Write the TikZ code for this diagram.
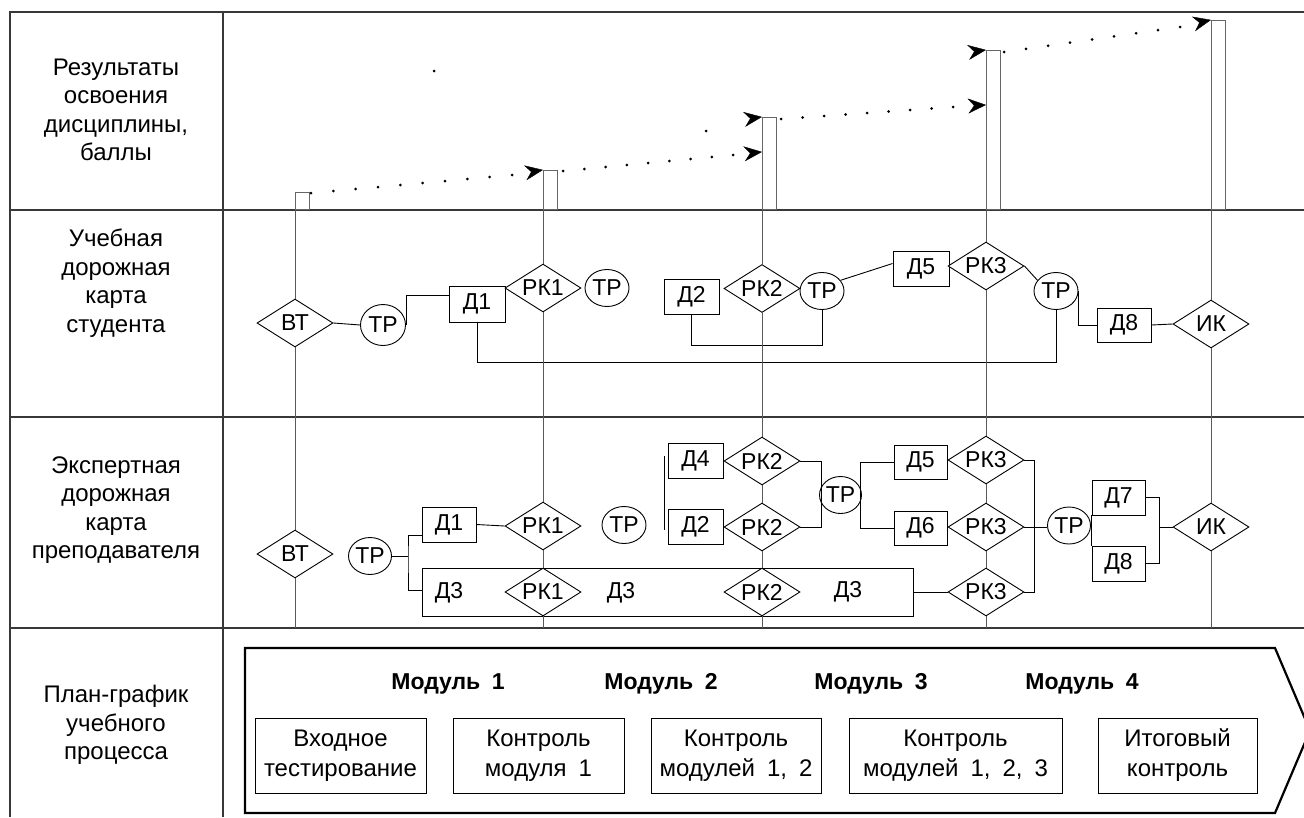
\documentclass[tikz,border=0pt]{standalone}
\usepackage{fontspec}
\setmainfont{Liberation Sans}
\usetikzlibrary{shapes.geometric,arrows.meta,calc}
\newcommand\flab{\fontsize{24pt}{28.5pt}\selectfont}
\newcommand\fnd{\fontsize{23pt}{26pt}\selectfont}
\newcommand\fbx{\fontsize{24pt}{30pt}\selectfont}
\newcommand\fmd{\fontsize{23pt}{28pt}\selectfont}
\begin{document}
\begin{tikzpicture}[x=1pt,y=-1pt,
  frm/.style={draw=black!78, line width=1.8pt},
  colline/.style={draw=black!65, line width=1pt},
  conn/.style={draw=black, line width=0.9pt},
  dia/.style={shape=diamond, draw=black, line width=0.9pt, fill=white, inner sep=0pt, shape aspect=1.6, minimum width=76pt, minimum height=48pt, font=\fnd},
  ell/.style={shape=ellipse, draw=black, line width=0.9pt, fill=white, inner sep=0pt, minimum width=44pt, minimum height=37pt, font=\fnd},
  dbox/.style={shape=rectangle, draw=black, line width=0.9pt, fill=white, inner sep=0pt, minimum width=55pt, minimum height=35pt, font=\fnd},
  barn/.style={shape=rectangle, draw=black!60, line width=1.1pt, inner sep=0pt, minimum width=14pt, anchor=south west},
  lbl/.style={align=center, font=\flab, inner sep=0pt},
  pbox/.style={shape=rectangle, draw=black, line width=0.9pt, inner sep=0pt, minimum height=75pt, align=center, font=\fbx},
  modl/.style={font=\fmd\bfseries, inner sep=0pt},
  arr/.style={-{Stealth[length=18pt,width=15pt,inset=6pt]}, line width=0.4pt}
]
\useasboundingbox (0,0) rectangle (1304,817);
\clip (0,0) rectangle (1304,817);

% ---------- frame ----------
\draw[frm] (10,817) -- (10,12) -- (1304,12);
\draw[frm] (10,210) -- (1304,210);
\draw[frm] (10,417) -- (1304,417);
\draw[frm] (10,628) -- (1304,628);
\draw[frm] (223,12) -- (223,817);
\coordinate (r4) at (0,628);

% ---------- row labels ----------
\node[lbl] (lab1) at (116,110) {Результаты\\освоения\\дисциплины,\\баллы};
\node[lbl] (lab2) at (116,283) {Учебная\\дорожная\\карта\\студента};
\node[lbl] (lab3) at (116,510) {Экспертная\\дорожная\\карта\\преподавателя};
\node[lbl] (lab4) at (116,725) {План-график\\учебного\\процесса};

% ---------- results row: bars ----------
\node[barn, minimum height=17pt]  (bar1) at (295,210) {};
\node[barn, minimum height=39pt]  (bar2) at (543,210) {};
\node[barn, minimum height=92pt]  (bar3) at (762,210) {};
\node[barn, minimum height=159pt] (bar4) at (986,210) {};
\node[barn, minimum height=189pt] (bar5) at (1211,210) {};

% dotted progress lines
\coordinate (s1a) at (311,193);  \coordinate (s1b) at (512,175);
\coordinate (s2a) at (563,171);  \coordinate (s2b) at (733,155);
\coordinate (s3a) at (781,119);  \coordinate (s3b) at (953,107);
\coordinate (s4a) at (1004,52);  \coordinate (s4b) at (1180,27);
\foreach \i in {0,...,9} \fill ($(s1a)!\i/9!(s1b)$) circle (1.5pt);
\foreach \i in {0,...,8} \fill ($(s2a)!\i/8!(s2b)$) circle (1.5pt);
\foreach \i in {0,...,8} \fill ($(s3a)!\i/8!(s3b)$) circle (1.5pt);
\foreach \i in {0,...,8} \fill ($(s4a)!\i/8!(s4b)$) circle (1.5pt);
\fill (434,71) circle (1.5pt);
\fill (706,131) circle (1.5pt);

% arrowheads
\coordinate (t1) at (bar2.north west);
\coordinate (t2) at ($(bar3.north west)+(0,35)$);
\coordinate (t3) at (bar3.north west);
\coordinate (t4) at ($(bar4.north west)+(0,55)$);
\coordinate (t5) at (bar4.north west);
\coordinate (t6) at (bar5.north west);
\draw[arr] ($(t1)!3pt!(s1b)$) -- (t1);
\draw[arr] ($(t2)!3pt!(s2b)$) -- (t2);
\draw[arr] ($(t3)!3pt!(740,120)$) -- (t3);
\draw[arr] ($(t4)!3pt!(s3b)$) -- (t4);
\draw[arr] ($(t5)!3pt!(964,53)$) -- (t5);
\draw[arr] ($(t6)!3pt!(s4b)$) -- (t6);

% ---------- student road map ----------
\node[dia] (vts) at (295,323) {ВТ};
\node[ell, minimum width=45pt, minimum height=41pt] (t1s) at (383,325) {ТР};
\node[dbox, minimum width=56pt, minimum height=36pt] (d1s) at (477,304) {Д1};
\node[dia] (rk1s) at (543,288) {РК1};
\node[ell] (t2s) at (607,288) {ТР};
\node[dbox] (d2s) at (691.5,296.5) {Д2};
\node[dia] (rk2s) at (762,288.5) {РК2};
\node[ell] (t3s) at (822,291) {ТР};
\node[dbox, minimum width=56pt] (d5s) at (921,268.5) {Д5};
\node[dia] (rk3s) at (986,266) {РК3};
\node[ell] (t4s) at (1056,291) {ТР};
\node[dbox, minimum width=54pt, minimum height=34pt] (d8s) at (1124,325) {Д8};
\node[dia] (iks) at (1211,324) {ИК};

\draw[conn] (vts.east) -- (t1s.west);
\draw[conn] (t1s.east) |- ($(d1s.west)+(0,-9)$);
\draw[conn] (d1s.south) -- ++(0,40) -| (t4s.south);
\draw[conn] (d2s.south) -- ++(0,31) -| (t3s.south);
\draw[conn] (t3s.30) -- ($(d5s.west)+(0,-5)$);
\draw[conn] (rk3s.east) -- (t4s.150);
\draw[conn] (t4s.east) |- (d8s.west);
\draw[conn] (d8s.east) -- (iks.west);

% ---------- expert road map ----------
\node[dia] (vte) at (295,554) {ВТ};
\node[ell, minimum width=43pt] (t1e) at (370,556) {ТР};
\node[dbox, minimum width=54pt] (d1e) at (449,524.5) {Д1};
\node[dia] (rk1e) at (543,526) {РК1};
\node[ell] (t2e) at (624,525) {ТР};
\node[dbox] (d4e) at (695.5,460.5) {Д4};
\node[dbox] (d2e) at (695.5,526.5) {Д2};
\node[dia] (rk2a) at (762,461) {РК2};
\node[dia] (rk2b) at (762,527) {РК2};
\node[ell, minimum width=42pt] (t3e) at (840.5,495) {ТР};
\node[dbox, minimum width=53pt, minimum height=34pt] (d5e) at (920.5,462) {Д5};
\node[dbox, minimum width=53pt, minimum height=34pt] (d6e) at (920.5,528) {Д6};
\node[dia] (rk3a) at (986,460) {РК3};
\node[dia] (rk3b) at (986,527) {РК3};
\node[dia] (rk3c) at (986,592) {РК3};
\node[ell, minimum width=43pt] (t4e) at (1069,525.5) {ТР};
\node[dbox, minimum width=53pt] (d7e) at (1118.5,497.5) {Д7};
\node[dbox, minimum width=53pt] (d8e) at (1118.5,563.5) {Д8};
\node[dia] (ike) at (1211,527) {ИК};

% long Д3 bar with its control diamonds
\node[shape=rectangle, draw=black, line width=0.9pt, inner sep=0pt, minimum width=491pt, minimum height=48pt] (d3r) at (667.5,592) {};
\node[dia, fill=none] (rk1c) at (543,592) {РК1};
\node[dia, fill=none] (rk2c) at (762,592) {РК2};
\node[font=\fnd, inner sep=0pt] (d3a) at (449,593) {Д3};
\node[font=\fnd, inner sep=0pt] (d3b) at (621,593) {Д3};
\node[font=\fnd, inner sep=0pt] (d3c) at (848,592) {Д3};

\coordinate (j1) at (408,556);
\draw[conn] (t1e.east) -- (j1);
\draw[conn] ($(d1e.west)+(0,10.5)$) -| (j1) |- ($(d3r.west)+(0,-2)$);
\draw[conn] (d1e.east) -- (rk1e.west);
\coordinate (v1) at (664,456);
\coordinate (v2) at (664,530);
\draw[conn] (v1) -- (v2);
\draw[conn] (rk2a.east) -- ++(21,0) |- (rk2b.east);
\draw[conn] (d5e.west) -- ++(-33,0) |- (d6e.west);
\draw[conn] (rk3a.east) -- ++(10,0) |- (rk3c.east);
\draw[conn] (rk3b.east) -- (t4e.west |- rk3b.east);
\draw[conn] (d3r.east) -- (rk3c.west);
\draw[conn] (d7e.south west) -- (d8e.north west);
\draw[conn] (d7e.east) -- ++(14,0) |- (d8e.east);
\draw[conn] (ike.west) -- ++(-14,0);

% ---------- column lines ----------
\draw[colline] (bar1.south west) -- (vts.north);
\draw[colline] (vts.south) -- (vte.north);
\draw[colline] (vte.south) -- (vte.south |- r4);

\draw[colline] (bar2.south west) -- (rk1s.north);
\draw[colline] (rk1s.south) -- (rk1e.north);
\draw[colline] (rk1e.south) -- (rk1c.north);
\draw[colline] (rk1c.south) -- (rk1c.south |- r4);

\draw[colline] (bar3.south west) -- (rk2s.north);
\draw[colline] (rk2s.south) -- (rk2a.north);
\draw[colline] (rk2a.south) -- (rk2b.north);
\draw[colline] (rk2b.south) -- (rk2c.north);
\draw[colline] (rk2c.south) -- (rk2c.south |- r4);

\draw[colline] (bar4.south west) -- (rk3s.north);
\draw[colline] (rk3s.south) -- (rk3a.north);
\draw[colline] (rk3a.south) -- (rk3b.north);
\draw[colline] (rk3b.south) -- (rk3c.north);
\draw[colline] (rk3c.south) -- (rk3c.south |- r4);

\draw[colline] (bar5.south west) -- (iks.north);
\draw[colline] (iks.south) -- (ike.north);
\draw[colline] (ike.south) -- (ike.south |- r4);

% ---------- plan row ----------
\draw[draw=black, line width=2.2pt, line join=miter] (245,648) -- (1275,648) -- (1310,730.5) -- (1275,813) -- (245,813) -- cycle;
\node[modl] (m1) at (448,684) {Модуль\enspace 1};
\node[modl] (m2) at (661,684) {Модуль\enspace 2};
\node[modl] (m3) at (871,684) {Модуль\enspace 3};
\node[modl] (m4) at (1082,684) {Модуль\enspace 4};
\node[pbox, minimum width=171pt] (b1) at (340.5,755.5) {Входное\\тестирование};
\node[pbox, minimum width=171pt] (b2) at (538.5,755.5) {Контроль\\модуля\enspace 1};
\node[pbox, minimum width=170pt] (b3) at (736,755.5) {Контроль\\модулей\enspace 1,\enspace 2};
\node[pbox, minimum width=213pt] (b4) at (955.5,755.5) {Контроль\\модулей\enspace 1,\enspace 2,\enspace 3};
\node[pbox, minimum width=159pt] (b5) at (1177.5,755.5) {Итоговый\\контроль};
\end{tikzpicture}
\end{document}
